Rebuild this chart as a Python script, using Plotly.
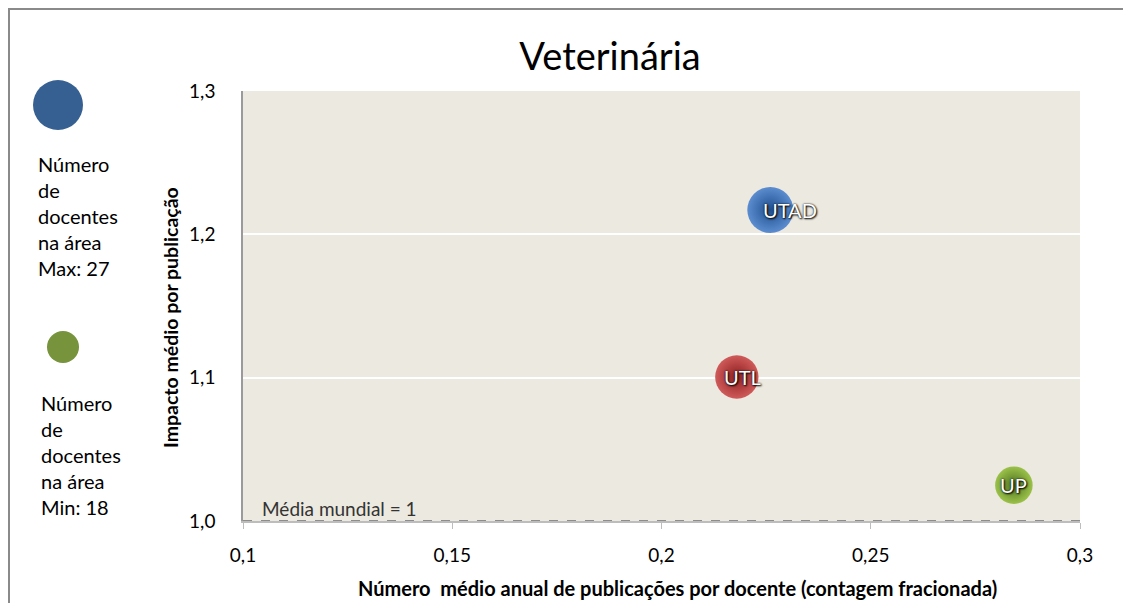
import plotly.graph_objects as go

# ---- data ----
universities = ["UTAD", "UTL", "UP"]
pubs_per_docente = [0.226, 0.218, 0.2842]
impacto = [1.217, 1.1005, 1.025]
n_docentes = [27, 24, 18]
bubble_colors = ["#5B8DD0", "#D05A5A", "#9CC24A"]
bubble_edges = ["#1F4E8C", "#8E1E1E", "#4E7420"]
x_ticks = [0.1, 0.15, 0.2, 0.25, 0.3]
x_tick_labels = ["0,1", "0,15", "0,2", "0,25", "0,3"]
y_ticks = [1.0, 1.1, 1.2, 1.3]
y_tick_labels = ["1,0", "1,1", "1,2", "1,3"]
media_mundial = 1.0
max_docentes = 27
min_docentes = 18
label_xshift = [20, 6, 0]

FONT = "Lato"
OFF = 8  # page body margin
W, H = 1131 - OFF, 603 - OFF
L, R, T, B = 243 - OFF, 1080 - OFF, 91 - OFF, 521 - OFF


def px(xp):
    return (xp - OFF - L) / (R - L)


def py(yp):
    return (B - (yp - OFF)) / (B - T)


max_d = 46
fig = go.Figure()
fig.add_trace(go.Scatter(
    x=pubs_per_docente, y=impacto, mode="markers",
    marker=dict(
        size=n_docentes, sizemode="area",
        sizeref=2 * max(n_docentes) / max_d ** 2,
        color=bubble_colors, opacity=1,
        gradient=dict(type="radial", color=bubble_edges),
        line=dict(width=0),
    ),
    hoverinfo="text", text=universities, showlegend=False,
))

for u, xv, yv, sh in zip(universities, pubs_per_docente, impacto, label_xshift):
    fig.add_annotation(
        x=xv, y=yv, text=u, showarrow=False, xshift=sh,
        font=dict(family=FONT, size=20, color="white",
                  shadow="0px 0px 2px #000, 1px 1px 2px #000"),
    )

# world average line
fig.add_shape(type="line", xref="x", yref="y", x0=0.1, x1=0.3,
              y0=media_mundial, y1=media_mundial,
              line=dict(color="#8C8C8C", width=2, dash="dash"))
fig.add_annotation(x=0.1, y=media_mundial, xref="x", yref="y",
                   text="Média mundial = %d" % media_mundial, showarrow=False,
                   xanchor="left", yanchor="bottom", xshift=17, yshift=-1,
                   font=dict(family=FONT, size=19, color="#333333"))

# legend bubbles
fig.add_shape(type="circle", xref="paper", yref="paper",
              xsizemode="pixel", ysizemode="pixel",
              xanchor=px(58), yanchor=py(105),
              x0=-25, x1=25, y0=-25, y1=25,
              fillcolor="#366092", line=dict(width=0))
fig.add_shape(type="circle", xref="paper", yref="paper",
              xsizemode="pixel", ysizemode="pixel",
              xanchor=px(63), yanchor=py(347),
              x0=-16, x1=16, y0=-16, y1=16,
              fillcolor="#77933C", line=dict(width=0))

fig.add_annotation(xref="paper", yref="paper", x=px(36), y=py(216),
                   xanchor="left", yanchor="middle", align="left",
                   showarrow=False,
                   text="Número<br>de<br>docentes<br>na área<br>Max: %d" % max_docentes,
                   font=dict(family=FONT, size=20, color="#000000"))
fig.add_annotation(xref="paper", yref="paper", x=px(39), y=py(455),
                   xanchor="left", yanchor="middle", align="left",
                   showarrow=False,
                   text="Número<br>de<br>docentes<br>na área<br>Min: %d" % min_docentes,
                   font=dict(family=FONT, size=20, color="#000000"))

# axis titles
fig.add_annotation(xref="paper", yref="paper", x=px(677), y=py(588),
                   xanchor="center", yanchor="middle",
                   text="<b>Número  médio anual de publicações por docente (contagem fracionada)</b>",
                   showarrow=False, font=dict(family=FONT, size=20, color="#000"))
fig.add_annotation(xref="paper", yref="paper", x=px(170), y=py(318),
                   xanchor="center", yanchor="middle",
                   text="<b>Impacto médio por publicação</b>", textangle=-90,
                   showarrow=False, font=dict(family=FONT, size=19.5, color="#000"))

# outer frame (top and left edges of the figure)
fig.add_shape(type="line", xref="paper", yref="paper",
              x0=px(8), x1=px(1131), y0=py(9), y1=py(9),
              line=dict(color="#8A8A8A", width=2))
fig.add_shape(type="line", xref="paper", yref="paper",
              x0=px(9), x1=px(9), y0=py(8), y1=py(603),
              line=dict(color="#8A8A8A", width=2))

fig.update_layout(
    width=W, height=H,
    margin=dict(l=L, r=W - R, t=T, b=H - B, pad=0),
    paper_bgcolor="white", plot_bgcolor="#ECE9E0",
    title=dict(text="Veterinária", x=px(610), xref="paper", xanchor="center",
               y=1 - (57 - OFF) / H, yanchor="middle",
               font=dict(family=FONT, size=38, color="#000")),
    xaxis=dict(range=[0.1, 0.3], tickvals=x_ticks, ticktext=x_tick_labels,
               showgrid=False, zeroline=False, showline=True,
               linecolor="#BDBDBD", linewidth=1.5, ticks="outside",
               ticklen=6, tickcolor="#BDBDBD", ticklabelstandoff=10,
               tickfont=dict(family=FONT, size=19, color="#000")),
    yaxis=dict(range=[1.0, 1.3], tickvals=y_ticks, ticktext=y_tick_labels,
               showgrid=True, gridcolor="white", gridwidth=2,
               zeroline=False, showline=True, linecolor="#9A9A9A",
               linewidth=1.5, ticks="", ticklabelstandoff=22,
               tickfont=dict(family=FONT, size=19, color="#000")),
    font=dict(family=FONT),
)

fig.write_html("out.html")
